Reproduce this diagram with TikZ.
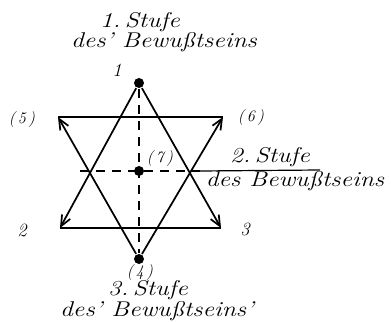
\documentclass[tikz,border=0pt]{standalone}
\usetikzlibrary{arrows.meta}
\newcommand{\hand}[1]{\scalebox{1.2}[1]{#1}}
\begin{document}
\begin{tikzpicture}[
    x=0.75pt, y=-0.75pt,
    >={Straight Barb[length=8pt,width=7pt]},
    line width=1.3pt,
    font=\itshape\fontsize{14}{16}\selectfont,
    dot/.style={circle, fill, inner sep=0pt, minimum size=7.5pt},
    plabel/.style={inner sep=0pt, font=\itshape\fontsize{12}{14}\selectfont},
    level/.style={inner sep=0pt, font=\itshape\fontsize{16}{16}\selectfont},
    guide/.style={line width=0.9pt, dash pattern=on 7pt off 5pt}
]
    \useasboundingbox (0,0) rectangle (391,323);

    % Corners of the two triangles
    \node[dot] (p1) at (139,83) {};
    \coordinate (p2) at (60,228);
    \coordinate (p3) at (221,228);
    \node[dot] (p4) at (139,259) {};
    \coordinate (p5) at (58,117);
    \coordinate (p6) at (223,117);
    \node[dot] (p7) at (139,171) {};

    % Upright triangle 1-2-3
    \draw[->] (p1) -- (p2);
    \draw[->] (p1) -- (p3);
    \draw (p2) -- (p3);

    % Inverted triangle 4-5-6
    \draw[->] (p4) -- (p5);
    \draw[->] (p4) -- (p6);
    \draw (p5) -- (p6);

    % Dashed axes through (7)
    \coordinate (hl) at (80,171);
    \coordinate (hr) at (200,171);
    \coordinate (fr) at (320,170);
    \draw[guide] (p1) -- (p4);
    \draw[guide] (hl) -- (hr);
    \draw[line width=0.9pt] (hr) -- (fr);

    % Point labels
    \node (l1) at (117,70) {1};
    \node (l2) at (22,230) {2};
    \node (l3) at (245,229) {3};
    \node[plabel] (l4) at (140,272.5) {(\,4\,)};
    \node[plabel] (l5) at (22,120) {(\,5\,)};
    \node[plabel] (l6) at (251,118) {(\,6\,)};
    \node[plabel] (l7) at (160,159) {(\,7\,)};

    % Levels of consciousness
    \node[level] (s1a) at (140,22) {\hand{1.\,Stufe}};
    \node[level] (s1b) at (164,42) {\hand{des' Bewußtseins}};
    \node[level] (s2a) at (270,157) {\hand{2.\,Stufe}};
    \node[level] (s2b) at (295,181) {\hand{des Bewußtseins}};
    \node[level] (s3a) at (148,290) {\hand{3.\,Stufe}};
    \node[level] (s3b) at (157,311) {\hand{des' Bewußtseins'}};

\end{tikzpicture}
\end{document}
